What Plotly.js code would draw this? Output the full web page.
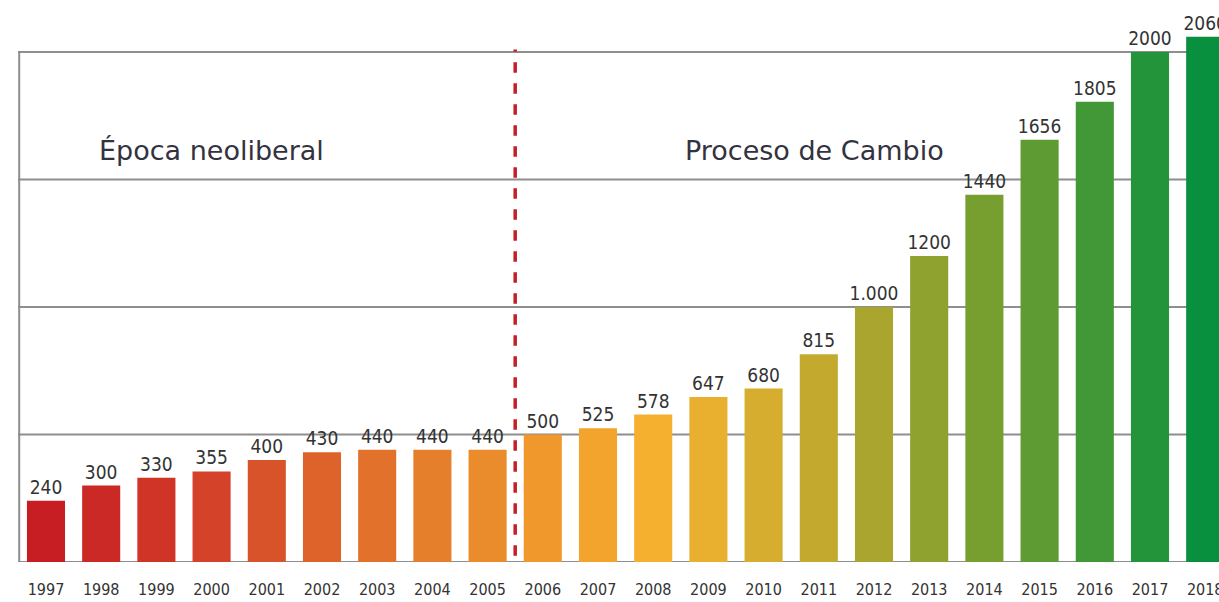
<!DOCTYPE html>
<html>
<head>
<meta charset="utf-8">
<script src="https://cdn.plot.ly/plotly-3.0.1.min.js"></script>
<style>html,body{margin:0;padding:0;background:#fff;}#chart{width:1219px;height:602px;}</style>
</head>
<body>
<div id="chart"></div>
<script>
const years = ["1997","1998","1999","2000","2001","2002","2003","2004","2005","2006","2007","2008","2009","2010","2011","2012","2013","2014","2015","2016","2017","2018"];
const values = [240,300,330,355,400,430,440,440,440,500,525,578,647,680,815,1000,1200,1440,1656,1805,2000,2060];
const valueLabels = ["240","300","330","355","400","430","440","440","440","500","525","578","647","680","815","1.000","1200","1440","1656","1805","2000","2060"];
const barColors = ["#c71e24","#cb2926","#cf3427","#d4422a","#d9532a","#de632a","#e2722b","#e67f2c","#ea8b2c","#f0982b","#f3a42d","#f5b02f","#e8b02e","#d6ad2e","#c3aa2e","#aaa52e","#8fa12f","#779f30","#5e9b33","#429837","#23943a","#08903e"];
const periodLabels = ["Época neoliberal","Proceso de Cambio"];
const periodX = [3.0, 13.93];
const gridValues = [500,1000,1500,2000];

const trace = {
  type: "bar",
  x: years,
  y: values,
  text: valueLabels,
  textposition: "outside",
  constraintext: "none",
  cliponaxis: true,
  textfont: {family: "Liberation Sans Narrow, DejaVu Sans Condensed, Arial Narrow, sans-serif", size: 19, color: "#333"},
  marker: {color: barColors, line: {width: 0}},
  hoverinfo: "x+y"
};

const shapes = [];
gridValues.forEach(v => shapes.push({type:"line", xref:"paper", x0:0, x1:1, yref:"y", y0:v, y1:v, line:{color:"#8e8e8e", width:2}, layer:"below"}));
shapes.push({type:"line", xref:"paper", x0:0, x1:1, yref:"y", y0:0, y1:0, line:{color:"#8e8e8e", width:2}, layer:"below"});
shapes.push({type:"line", xref:"paper", x0:0.001, x1:0.001, yref:"y", y0:0, y1:2000, line:{color:"#8e8e8e", width:2}, layer:"below"});
shapes.push({type:"line", xref:"x", x0:8.5, x1:8.5, yref:"y", y0:25, y1:2010, line:{color:"#c41f26", width:3.5, dash:"dash"}});

const annotations = periodLabels.map((t,i) => ({
  x: periodX[i], xref:"x", y: 1615, yref:"y", text: t, showarrow:false,
  font:{family:"DejaVu Sans, Verdana, sans-serif", size:27, color:"#333340"}
}));

const layout = {
  width: 1219, height: 602,
  margin: {l: 18, r: 0, t: 1, b: 40},
  paper_bgcolor: "#fff", plot_bgcolor: "#fff",
  bargap: 0.31,
  showlegend: false,
  xaxis: {
    type: "category", range: [-0.507, 21.25], showgrid:false, zeroline:false, showline:false, ticks:"",
    ticklabelstandoff: 16,
    tickfont: {family: "Liberation Sans Narrow, DejaVu Sans Condensed, Arial Narrow, sans-serif", size: 16, color: "#333"}
  },
  yaxis: {range: [0, 2200], showgrid:false, zeroline:false, showline:false, showticklabels:false, ticks:""},
  shapes: shapes,
  annotations: annotations
};

Plotly.newPlot("chart", [trace], layout, {displayModeBar:false, staticPlot:true});
</script>
</body>
</html>
